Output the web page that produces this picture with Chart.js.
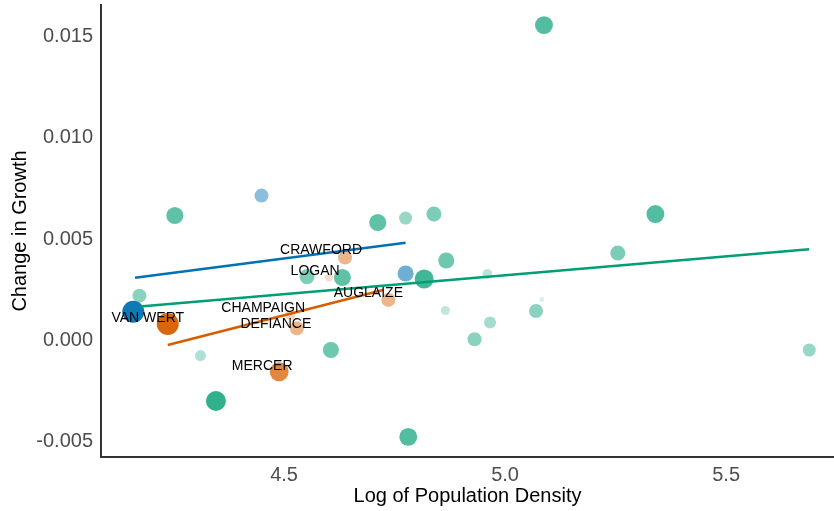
<!DOCTYPE html>
<html>
<head>
<meta charset="utf-8">
<script src="https://cdn.jsdelivr.net/npm/chart.js@4"></script>
<style>
  body { margin: 0; background: #fff; }
  #wrap { width: 834px; height: 511px; }
</style>
</head>
<body>
<div id="wrap"><canvas id="growth"></canvas></div>
<script>
// x = log of population density, y = change in growth, w = relative weight (bubble size / opacity)
const greenX = [5.088, 5.340, 5.255, 5.688, 4.960, 5.083, 5.070, 4.966, 4.931, 4.865, 4.867, 4.839,
                4.775, 4.712, 4.817, 4.632, 4.552, 4.606, 4.781, 4.346, 4.311, 4.253, 4.173];
const greenY = [0.01554, 0.00623, 0.00431, -0.00047, 0.00328, 0.00202, 0.00145, 0.00089, 0.00006, 0.00148, 0.00394, 0.00623,
                0.00603, 0.00581, 0.00303, 0.00310, 0.00315, -0.00047, -0.00475, -0.00298, -0.00074, 0.00616, 0.00221];
const greenW = [0.76, 0.76, 0.59, 0.47, 0.29, 0.0, 0.53, 0.41, 0.53, 0.24, 0.65, 0.59,
                0.47, 0.71, 0.82, 0.71, 0.59, 0.65, 0.76, 0.88, 0.35, 0.71, 0.53];

const blueX = [4.159, 4.449, 4.775];
const blueY = [0.00142, 0.00714, 0.00330];
const blueW = [1.0, 0.53, 0.65];

const orangeX = [4.237, 4.489, 4.514, 4.529, 4.602, 4.638, 4.736];
const orangeY = [0.00081, -0.00154, 0.00126, 0.00060, 0.00310, 0.00409, 0.00200];
const orangeW = [1.0, 0.82, 0.29, 0.53, 0.18, 0.53, 0.53];
const orangeNames = ['VAN WERT', 'MERCER', 'CHAMPAIGN', 'DEFIANCE', 'LOGAN', 'CRAWFORD', 'AUGLAIZE'];

// fitted lines (end points)
const blueFitX = [4.163, 4.775];
const blueFitY = [0.00309, 0.00482];
const greenFitX = [4.174, 5.688];
const greenFitY = [0.00167, 0.00449];
const orangeFitX = [4.237, 4.724];
const orangeFitY = [-0.00022, 0.00249];

const yTicks = [-0.005, 0.000, 0.005, 0.010, 0.015];
const xTicks = [4.5, 5.0, 5.5];

const GREEN = [0, 158, 115];
const BLUE = [0, 114, 178];
const ORANGE = [213, 94, 0];

function rgba(c, a) {
    return `rgba(${c[0]},${c[1]},${c[2]},${a})`;
}

function bubbles(xs, ys, ws) {
    return xs.map((x, i) => ({ x: x, y: ys[i], r: 2.5 + 8.5 * ws[i] }));
}

function bubbleSet(label, xs, ys, ws, col) {
    return {
        type: 'bubble',
        label: label,
        data: bubbles(xs, ys, ws),
        backgroundColor: ws.map(w => rgba(col, (0.15 + 0.8 * Math.pow(w, 1.5)).toFixed(3))),
        borderWidth: 0,
        hoverRadius: 0,
        order: 2
    };
}

function fitSet(label, xs, ys, col) {
    return {
        type: 'line',
        label: label,
        data: xs.map((x, i) => ({ x: x, y: ys[i] })),
        borderColor: rgba(col, 1),
        borderWidth: 2.5,
        pointRadius: 0,
        fill: false,
        order: 1
    };
}

// county names next to the orange points
const nudges = {
    'VAN WERT': [-20, -6], 'MERCER': [-17, -6], 'CHAMPAIGN': [-27, -6.5], 'DEFIANCE': [-21, -4.5],
    'LOGAN': [-14, -6.5], 'CRAWFORD': [-24, -7.5], 'AUGLAIZE': [-20, -7]
};
const nameLabels = {
    id: 'nameLabels',
    afterDatasetsDraw(chart) {
        const ctx = chart.ctx;
        const xs = chart.scales.x, ys = chart.scales.y;
        ctx.save();
        ctx.font = '14px "Liberation Sans", Arial, sans-serif';
        ctx.fillStyle = '#000';
        ctx.textAlign = 'center';
        ctx.textBaseline = 'middle';
        orangeNames.forEach((name, i) => {
            const n = nudges[name] || [0, 0];
            ctx.fillText(name, xs.getPixelForValue(orangeX[i]) + n[0], ys.getPixelForValue(orangeY[i]) + n[1]);
        });
        ctx.restore();
    }
};

const tickFont = { family: '"Liberation Sans", Arial, sans-serif', size: 20 };
const titleFont = { family: '"Liberation Sans", Arial, sans-serif', size: 20 };

function noPad(s) {
    s.paddingTop = 0;
    s.paddingBottom = 0;
    s.paddingLeft = 0;
    s.paddingRight = 0;
}

new Chart(document.getElementById('growth'), {
    type: 'bubble',
    data: {
        datasets: [
            fitSet('blue fit', blueFitX, blueFitY, BLUE),
            fitSet('green fit', greenFitX, greenFitY, GREEN),
            fitSet('orange fit', orangeFitX, orangeFitY, ORANGE),
            bubbleSet('green', greenX, greenY, greenW, GREEN),
            bubbleSet('blue', blueX, blueY, blueW, BLUE),
            bubbleSet('orange', orangeX, orangeY, orangeW, ORANGE)
        ]
    },
    options: {
        responsive: true,
        maintainAspectRatio: false,
        animation: false,
        layout: { autoPadding: false, padding: { top: 5, right: 0, left: 0, bottom: 0 } },
        plugins: {
            legend: { display: false },
            tooltip: { enabled: false }
        },
        scales: {
            x: {
                type: 'linear',
                min: 4.086,
                max: 5.744,
                afterBuildTicks: s => { s.ticks = xTicks.map(v => ({ value: v })); },
                afterFit: s => { s.height = 54; noPad(s); },
                grid: { display: false, drawTicks: false },
                border: { display: true, color: '#333', width: 2 },
                ticks: { color: '#4d4d4d', font: tickFont, padding: 6, callback: v => v.toFixed(1) },
                title: { display: true, text: 'Log of Population Density', color: '#000', font: titleFont, padding: { top: 0, bottom: 3 } }
            },
            y: {
                type: 'linear',
                min: -0.00574,
                max: 0.01653,
                afterBuildTicks: s => { s.ticks = yTicks.map(v => ({ value: v })); },
                afterFit: s => { s.width = 101; noPad(s); },
                grid: { display: false, drawTicks: false },
                border: { display: true, color: '#333', width: 2 },
                ticks: { color: '#4d4d4d', font: tickFont, padding: 8, callback: v => v.toFixed(3) },
                title: { display: true, text: 'Change in Growth', color: '#000', font: titleFont, padding: { top: 8, bottom: 0 } }
            }
        }
    },
    plugins: [nameLabels]
});
</script>
</body>
</html>
